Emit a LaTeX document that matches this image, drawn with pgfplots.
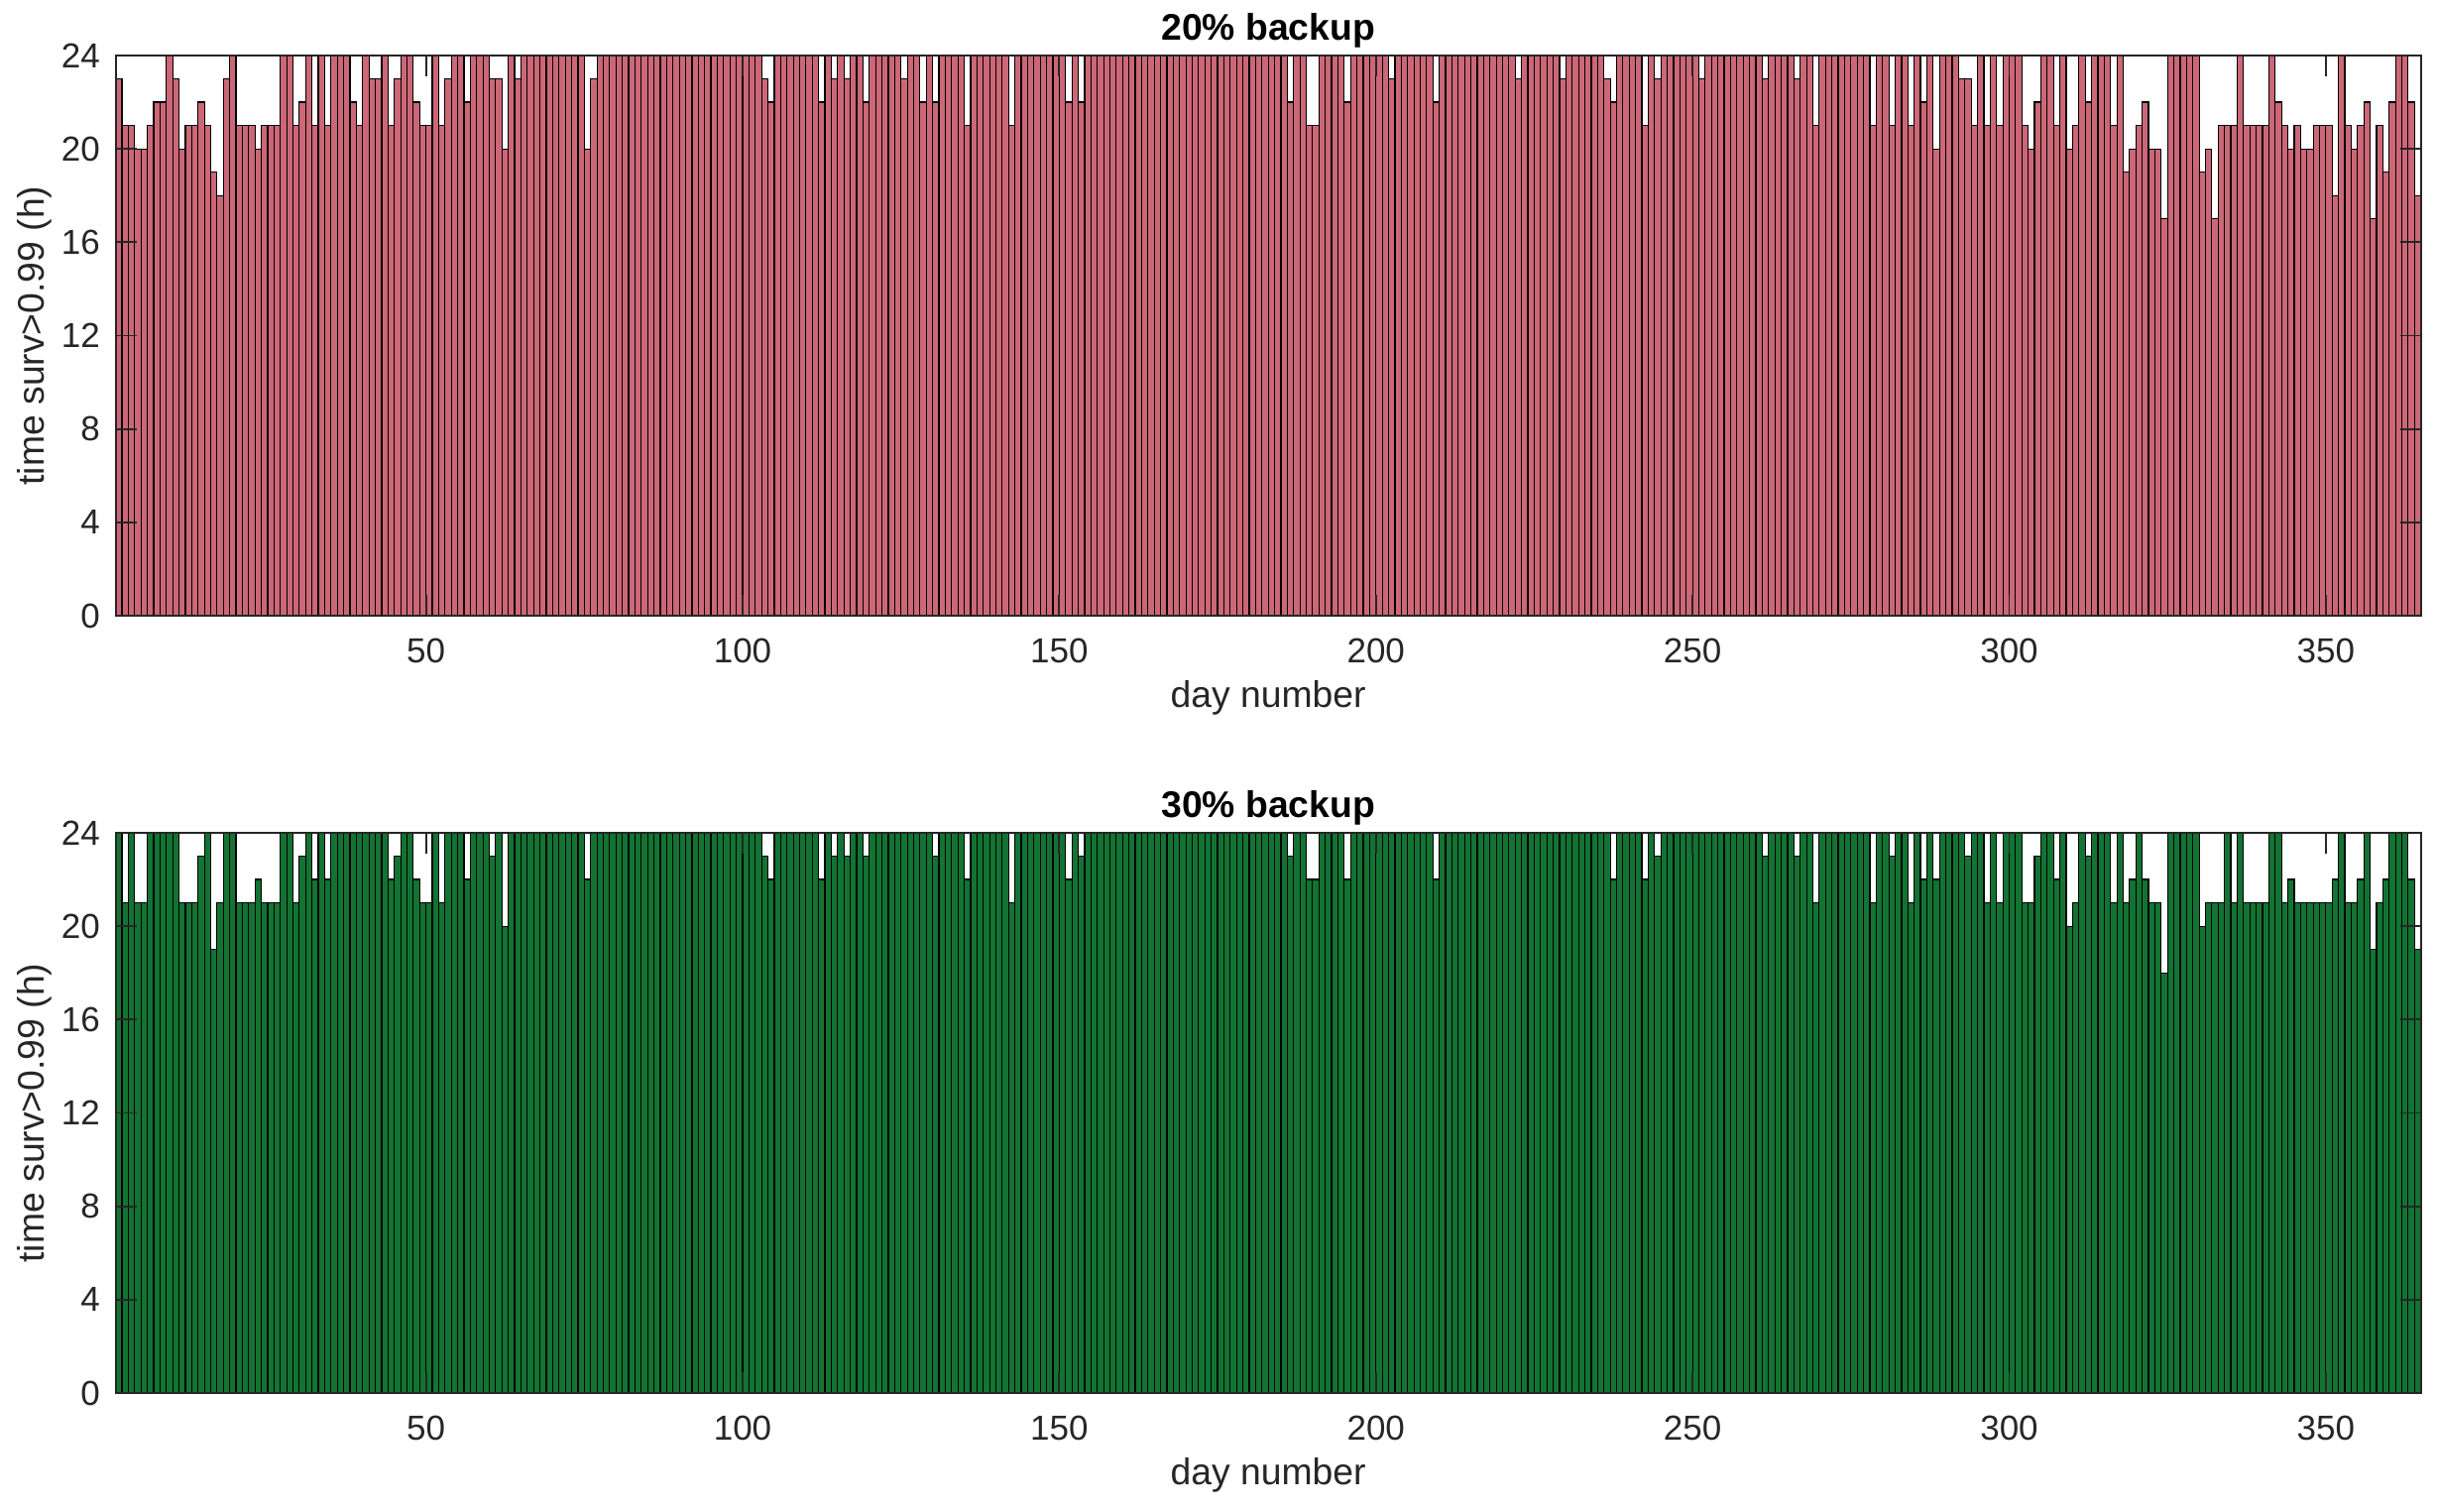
\documentclass[border=0pt]{standalone}
\usepackage{pgfplots}
\pgfplotsset{compat=1.18}
\usepackage{pgfplotstable}
\usepackage{fontspec}
\setmainfont{Liberation Sans}
\definecolor{barred}{RGB}{203,103,119}
\definecolor{bargreen}{RGB}{19,115,51}
\definecolor{axgray}{RGB}{38,38,38}

% hours per day with survivability > 0.99, days 1..364 (last row closes the interval)
\pgfplotstableread[row sep=\\]{
y\\
23\\21\\21\\20\\20\\21\\22\\22\\24\\23\\
20\\21\\21\\22\\21\\19\\18\\23\\24\\21\\
21\\21\\20\\21\\21\\21\\24\\24\\21\\22\\
24\\21\\24\\21\\24\\24\\24\\22\\21\\24\\
23\\23\\24\\21\\23\\24\\24\\22\\21\\21\\
24\\21\\23\\24\\24\\22\\24\\24\\24\\23\\
23\\20\\24\\23\\24\\24\\24\\24\\24\\24\\
24\\24\\24\\24\\20\\23\\24\\24\\24\\24\\
24\\24\\24\\24\\24\\24\\24\\24\\24\\24\\
24\\24\\24\\24\\24\\24\\24\\24\\24\\24\\
24\\24\\23\\22\\24\\24\\24\\24\\24\\24\\
24\\22\\24\\23\\24\\23\\24\\24\\22\\24\\
24\\24\\24\\24\\23\\24\\24\\22\\24\\22\\
24\\24\\24\\24\\21\\24\\24\\24\\24\\24\\
24\\21\\24\\24\\24\\24\\24\\24\\24\\24\\
22\\24\\22\\24\\24\\24\\24\\24\\24\\24\\
24\\24\\24\\24\\24\\24\\24\\24\\24\\24\\
24\\24\\24\\24\\24\\24\\24\\24\\24\\24\\
24\\24\\24\\24\\24\\22\\24\\24\\21\\21\\
24\\24\\24\\24\\22\\24\\24\\24\\24\\24\\
24\\23\\24\\24\\24\\24\\24\\24\\22\\24\\
24\\24\\24\\24\\24\\24\\24\\24\\24\\24\\
24\\23\\24\\24\\24\\24\\24\\24\\23\\24\\
24\\24\\24\\24\\24\\23\\22\\24\\24\\24\\
24\\21\\24\\23\\24\\24\\24\\24\\24\\24\\
23\\24\\24\\24\\24\\24\\24\\24\\24\\24\\
23\\24\\24\\24\\24\\23\\24\\24\\21\\24\\
24\\24\\24\\24\\24\\24\\24\\21\\24\\24\\
21\\24\\24\\21\\24\\22\\24\\20\\24\\24\\
24\\23\\23\\21\\24\\21\\24\\21\\24\\24\\
24\\21\\20\\22\\24\\24\\21\\24\\20\\21\\
24\\22\\24\\24\\24\\21\\24\\19\\20\\21\\
22\\20\\20\\17\\24\\24\\24\\24\\24\\19\\
20\\17\\21\\21\\21\\24\\21\\21\\21\\21\\
24\\22\\21\\20\\21\\20\\20\\21\\21\\21\\
18\\24\\21\\20\\21\\22\\17\\21\\19\\22\\
24\\24\\22\\18\\18\\
}\topdata

\pgfplotstableread[row sep=\\]{
y\\
24\\21\\24\\21\\21\\24\\24\\24\\24\\24\\
21\\21\\21\\23\\24\\19\\21\\24\\24\\21\\
21\\21\\22\\21\\21\\21\\24\\24\\21\\23\\
24\\22\\24\\22\\24\\24\\24\\24\\24\\24\\
24\\24\\24\\22\\23\\24\\24\\22\\21\\21\\
24\\21\\24\\24\\24\\22\\24\\24\\24\\23\\
24\\20\\24\\24\\24\\24\\24\\24\\24\\24\\
24\\24\\24\\24\\22\\24\\24\\24\\24\\24\\
24\\24\\24\\24\\24\\24\\24\\24\\24\\24\\
24\\24\\24\\24\\24\\24\\24\\24\\24\\24\\
24\\24\\23\\22\\24\\24\\24\\24\\24\\24\\
24\\22\\24\\23\\24\\23\\24\\24\\23\\24\\
24\\24\\24\\24\\24\\24\\24\\24\\24\\23\\
24\\24\\24\\24\\22\\24\\24\\24\\24\\24\\
24\\21\\24\\24\\24\\24\\24\\24\\24\\24\\
22\\24\\23\\24\\24\\24\\24\\24\\24\\24\\
24\\24\\24\\24\\24\\24\\24\\24\\24\\24\\
24\\24\\24\\24\\24\\24\\24\\24\\24\\24\\
24\\24\\24\\24\\24\\23\\24\\24\\22\\22\\
24\\24\\24\\24\\22\\24\\24\\24\\24\\24\\
24\\24\\24\\24\\24\\24\\24\\24\\22\\24\\
24\\24\\24\\24\\24\\24\\24\\24\\24\\24\\
24\\24\\24\\24\\24\\24\\24\\24\\24\\24\\
24\\24\\24\\24\\24\\24\\22\\24\\24\\24\\
24\\22\\24\\23\\24\\24\\24\\24\\24\\24\\
24\\24\\24\\24\\24\\24\\24\\24\\24\\24\\
23\\24\\24\\24\\24\\23\\24\\24\\21\\24\\
24\\24\\24\\24\\24\\24\\24\\21\\24\\24\\
23\\24\\24\\21\\24\\22\\24\\22\\24\\24\\
24\\24\\23\\24\\24\\21\\24\\21\\24\\24\\
24\\21\\21\\23\\24\\24\\22\\24\\20\\21\\
24\\23\\24\\24\\24\\21\\24\\21\\22\\24\\
22\\21\\21\\18\\24\\24\\24\\24\\24\\20\\
21\\21\\21\\24\\21\\24\\21\\21\\21\\21\\
24\\24\\21\\22\\21\\21\\21\\21\\21\\21\\
22\\24\\21\\21\\22\\24\\19\\21\\22\\24\\
24\\24\\22\\19\\19\\
}\botdata

\pgfplotsset{
  survaxis/.style={
    scale only axis,
    width=697.5pt, height=169.5pt,
    anchor=south west,
    xmin=1, xmax=365, ymin=0, ymax=24,
    xtick={50,100,...,350}, ytick={0,4,...,24},
    tick align=inside, major tick length=6.3pt,
    axis line style={axgray, line width=0.55pt},
    every tick/.style={axgray, line width=0.55pt},
    axis on top,
    /pgf/number format/assume math mode=true,
    ticklabel style={font=\fontsize{10.5}{12}\selectfont, text=axgray},
    xticklabel style={yshift=-3.5pt},
    yticklabel style={xshift=-1.2pt},
    xlabel={day number},
    ylabel={time surv>0.99 (h)},
    x label style={at={([yshift=-25pt]axis description cs:0.5,0)}, anchor=center,
      font=\fontsize{11.2}{13}\selectfont, text=axgray},
    y label style={at={([xshift=-24.6pt]axis description cs:0,0.5)}, anchor=center,
      font=\fontsize{11.2}{13}\selectfont, text=axgray},
    every axis title/.style={at={(axis description cs:0.5,1)}, anchor=center,
      yshift=7.6pt, font=\bfseries\fontsize{11.2}{13}\selectfont, text=black},
  }
}

\begin{document}
\begin{tikzpicture}
\useasboundingbox (0,0) rectangle (737.4pt,457.5pt);
\begin{axis}[survaxis, at={(35pt,271.2pt)}, title={20\% backup}]
\addplot[ybar interval, fill=barred, draw=black, line width=0.35pt]
  table[x expr=\coordindex+1, y=y] {\topdata};
\end{axis}
\begin{axis}[survaxis, at={(35pt,36pt)}, title={30\% backup}]
\addplot[ybar interval, fill=bargreen, draw=black, line width=0.35pt]
  table[x expr=\coordindex+1, y=y] {\botdata};
\end{axis}
\end{tikzpicture}
\end{document}
